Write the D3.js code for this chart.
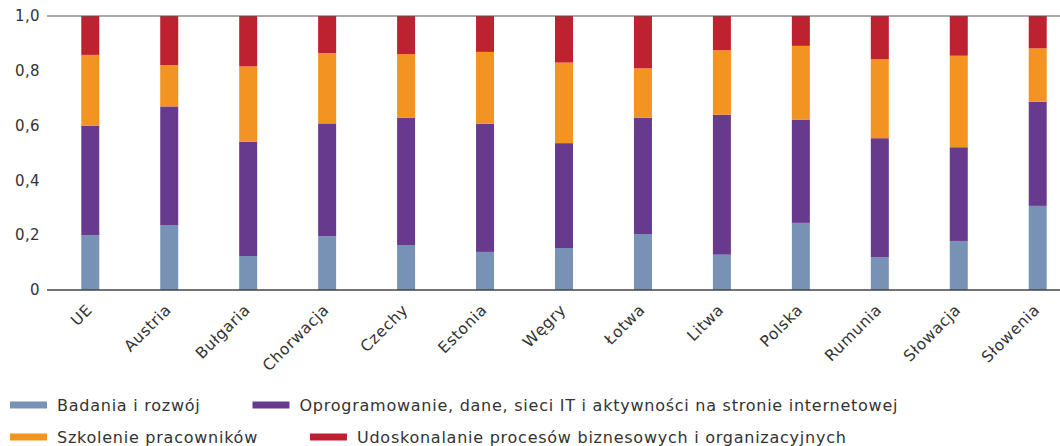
<!DOCTYPE html>
<html>
<head>
<meta charset="utf-8">
<script src="https://cdn.jsdelivr.net/npm/d3@7"></script>
<style>
  html, body { margin: 0; padding: 0; background: #fff; }
  svg { display: block; font-family: "DejaVu Sans", "Noto Sans", sans-serif; }
</style>
</head>
<body>
<svg id="chart" width="1060" height="446"></svg>
<script>
// Countries along the x axis
const countries = ["UE", "Austria", "Bułgaria", "Chorwacja", "Czechy", "Estonia", "Węgry",
  "Łotwa", "Litwa", "Polska", "Rumunia", "Słowacja", "Słowenia"];

// Share of each investment type (stacked to 1.0)
const badania      = [0.200, 0.237, 0.124, 0.196, 0.164, 0.139, 0.153, 0.204, 0.129, 0.245, 0.120, 0.179, 0.307];
const oprogramowanie = [0.400, 0.433, 0.417, 0.412, 0.465, 0.468, 0.383, 0.425, 0.511, 0.377, 0.434, 0.342, 0.380];
const szkolenie    = [0.258, 0.151, 0.275, 0.257, 0.232, 0.262, 0.294, 0.180, 0.235, 0.269, 0.288, 0.334, 0.195];
const udoskonalanie = [0.142, 0.179, 0.184, 0.135, 0.139, 0.131, 0.170, 0.191, 0.125, 0.109, 0.158, 0.145, 0.118];

const seriesNames = [
  "Badania i rozwój",
  "Oprogramowanie, dane, sieci IT i aktywności na stronie internetowej",
  "Szkolenie pracowników",
  "Udoskonalanie procesów biznesowych i organizacyjnych"
];
const seriesColors = ["#7792b5", "#673a8e", "#f39322", "#be2130"];
const yTicks = [0, 0.2, 0.4, 0.6, 0.8, 1.0];

const rows = countries.map((c, i) => ({
  country: c,
  s0: badania[i], s1: oprogramowanie[i], s2: szkolenie[i], s3: udoskonalanie[i]
}));

const svg = d3.select("#chart");
const plotLeft = 47, plotRight = 1060, plotTop = 16, plotBottom = 290;

const x = d3.scaleBand()
  .domain(countries)
  .range([50.8, 1077.2])
  .paddingInner(0.772)
  .paddingOuter(0.386);

const y = d3.scaleLinear().domain([0, 1]).range([plotBottom, plotTop]);

const stack = d3.stack().keys(["s0", "s1", "s2", "s3"]);
const layers = stack(rows);

// stacked bars
svg.append("g")
  .selectAll("g")
  .data(layers)
  .join("g")
  .attr("fill", (d, i) => seriesColors[i])
  .selectAll("rect")
  .data(d => d)
  .join("rect")
  .attr("x", d => x(d.data.country))
  .attr("width", x.bandwidth())
  .attr("y", d => y(d[1]))
  .attr("height", d => y(d[0]) - y(d[1]));

// top and bottom rules
svg.append("line")
  .attr("x1", plotLeft).attr("x2", plotRight)
  .attr("y1", y(1)).attr("y2", y(1))
  .attr("stroke", "#555").attr("stroke-width", 1.2);
svg.append("line")
  .attr("x1", plotLeft).attr("x2", plotRight)
  .attr("y1", y(0)).attr("y2", y(0))
  .attr("stroke", "#444").attr("stroke-width", 1.4);

// y axis labels
const fmt = v => v === 0 ? "0" : d3.format(".1f")(v).replace(".", ",");
svg.append("g")
  .selectAll("text")
  .data(yTicks)
  .join("text")
  .attr("x", 40)
  .attr("y", d => y(d))
  .attr("dy", "0.35em")
  .attr("text-anchor", "end")
  .attr("fill", "#333")
  .attr("font-size", 15)
  .attr("letter-spacing", 0.4)
  .text(fmt);

// x axis labels, rotated
svg.append("g")
  .selectAll("text")
  .data(countries)
  .join("text")
  .attr("transform", d => `translate(${x(d) + x.bandwidth() / 2 - 1},${plotBottom + 17}) rotate(-45)`)
  .attr("text-anchor", "end")
  .attr("dy", "0.35em")
  .attr("fill", "#333")
  .attr("font-size", 15.5)
  .attr("letter-spacing", 0.6)
  .text(d => d);

// legend, flowing in two rows
const legendRows = [[0, 1], [2, 3]];
const legendY = [405, 437];
legendRows.forEach((row, r) => {
  let cx = 10;
  row.forEach(idx => {
    const g = svg.append("g");
    g.append("rect")
      .attr("x", cx).attr("y", legendY[r] - 3.5)
      .attr("width", 37).attr("height", 7)
      .attr("fill", seriesColors[idx]);
    const t = g.append("text")
      .attr("x", cx + 47).attr("y", legendY[r])
      .attr("dy", "0.35em")
      .attr("fill", "#333")
      .attr("font-size", 16)
      .attr("letter-spacing", 0.75)
      .text(seriesNames[idx]);
    cx = cx + 47 + t.node().getComputedTextLength() + 52;
  });
});
</script>
</body>
</html>
